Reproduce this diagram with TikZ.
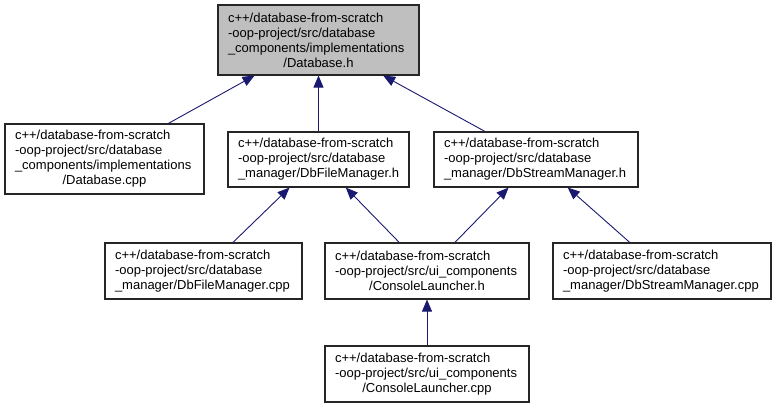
\documentclass[tikz,border=0pt]{standalone}
\usepackage{fontspec}
\setmainfont{Liberation Sans}
\usetikzlibrary{arrows.meta}
\definecolor{EdgeBlue}{RGB}{25,25,112}
\definecolor{RootGray}{RGB}{191,191,191}
\newcommand{\lastline}[1]{\par{\centering #1\par}}

\begin{document}
\exhyphenpenalty=10000\relax
\hyphenpenalty=10000\relax
\hbadness=10000\relax
\hfuzz=20pt\relax
\begin{tikzpicture}[x=1pt,y=-1pt,>={Triangle[length=12pt,width=10pt]},
  file/.style={draw=black!85,line width=1.1pt,fill=white,inner xsep=10pt,
    inner ysep=0pt,align=left,font=\fontsize{13}{15}\selectfont},
  inc/.style={<-,EdgeBlue,line width=0.9pt}]
  \useasboundingbox (0,0) rectangle (776,408);

  % top level
  \node[file,fill=RootGray,text width=181pt,minimum height=70pt] (dbh) at (318.5,40)
    {c++/database-from-scratch\\ -oop-project/src/database\\ \_components/implementations\lastline{/Database.h}};

  % second row
  \node[file,text width=179pt,minimum height=70pt] (dbcpp) at (104.5,159)
    {c++/database-from-scratch\\ -oop-project/src/database\\ \_components/implementations\lastline{/Database.cpp}};
  \node[file,text width=161pt,minimum height=55pt] (dfmh) at (318.5,159.5)
    {c++/database-from-scratch\\ -oop-project/src/database\\ \_manager/DbFileManager.h};
  \node[file,text width=184pt,minimum height=55pt] (dsmh) at (536,159.5)
    {c++/database-from-scratch\\ -oop-project/src/database\\ \_manager/DbStreamManager.h};

  % third row
  \node[file,text width=177pt,minimum height=56pt] (dfmcpp) at (203.5,271)
    {c++/database-from-scratch\\ -oop-project/src/database\\ \_manager/DbFileManager.cpp};
  \node[file,text width=184pt,minimum height=56pt] (clh) at (427,271)
    {c++/database-from-scratch\\ -oop-project/src/ui\_components\lastline{/ConsoleLauncher.h}};
  \node[file,text width=198pt,minimum height=56pt] (dsmcpp) at (662,271)
    {c++/database-from-scratch\\ -oop-project/src/database\\ \_manager/DbStreamManager.cpp};

  % bottom
  \node[file,text width=184pt,minimum height=56pt] (clcpp) at (427,374)
    {c++/database-from-scratch\\ -oop-project/src/ui\_components\lastline{/ConsoleLauncher.cpp}};

  \draw[inc] (dbh) -- (dbcpp);
  \draw[inc] (dbh) -- (dfmh);
  \draw[inc] (dbh) -- (dsmh);
  \draw[inc] (dfmh) -- (dfmcpp);
  \draw[inc] (dfmh) -- (clh);
  \draw[inc] (dsmh) -- (clh);
  \draw[inc] (dsmh) -- (dsmcpp);
  \draw[inc] (clh) -- (clcpp);
\end{tikzpicture}
\end{document}
